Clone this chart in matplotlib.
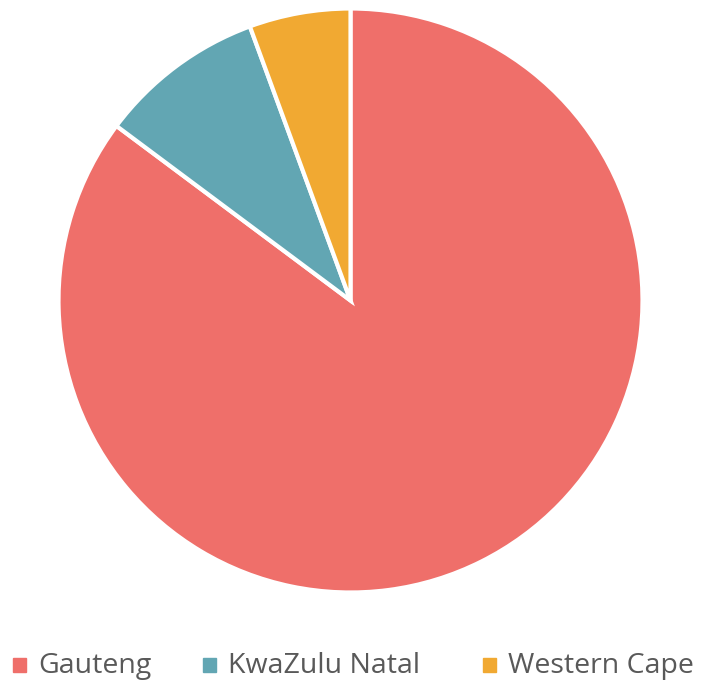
import matplotlib.pyplot as plt
from matplotlib.patches import Rectangle

labels = ['Gauteng', 'KwaZulu Natal', 'Western Cape']
shares = [85.2, 9.2, 5.6]
colors = ['#EF6F6A', '#62A6B3', '#F1A932']

W, H = 707, 684
fig = plt.figure(figsize=(W / 100, H / 100), dpi=100)

cx, cy, r = 350.5, 300.5, 292
ax = fig.add_axes([(cx - r) / W, 1 - (cy + r) / H, 2 * r / W, 2 * r / H])
ax.pie(shares, colors=colors, startangle=90, counterclock=False,
       wedgeprops=dict(edgecolor='white', linewidth=3))
ax.set_xlim(-1, 1)
ax.set_ylim(-1, 1)
ax.set_aspect('equal')

# legend along the bottom, placed by hand
marker_x = [13, 203, 483]
for x, lab, c in zip(marker_x, labels, colors):
    fig.patches.append(Rectangle((x / W, 1 - 672 / H), 13 / W, 14 / H,
                                 transform=fig.transFigure, color=c))
    fig.text((x + 25) / W, 1 - 673 / H, lab, fontsize=20.5, color='#595959',
             family='Open Sans', va='baseline', ha='left')

fig.savefig('out.png', dpi=100)
